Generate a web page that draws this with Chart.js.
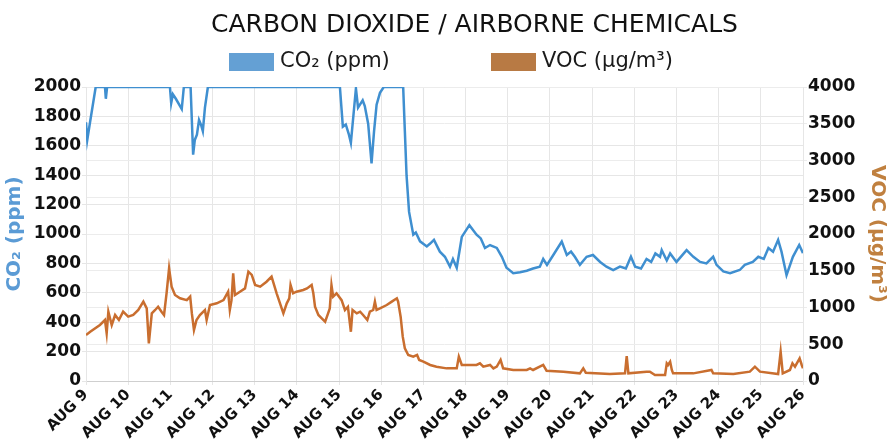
<!DOCTYPE html>
<html>
<head>
<meta charset="utf-8">
<title>Carbon dioxide / airborne chemicals</title>
<script src="https://cdn.jsdelivr.net/npm/chart.js@4.4.1/dist/chart.umd.min.js"></script>
<style>
    html, body { margin: 0; padding: 0; background: #fff; }
</style>
</head>
<body>
<canvas id="myChart" width="889" height="448"></canvas>
<script>
// x values are days of August (9.5 = Aug 9, noon)
const dayLabels = ['AUG 9', 'AUG 10', 'AUG 11', 'AUG 12', 'AUG 13', 'AUG 14', 'AUG 15', 'AUG 16', 'AUG 17',
    'AUG 18', 'AUG 19', 'AUG 20', 'AUG 21', 'AUG 22', 'AUG 23', 'AUG 24', 'AUG 25', 'AUG 26'];

const co2Days = [
    9.00, 9.03, 9.09, 9.23, 9.45, 9.47, 9.50, 10.99, 11.02, 11.06, 11.13, 11.23, 11.27, 11.32,
    11.48, 11.54, 11.58, 11.63, 11.68, 11.73, 11.77, 11.82, 11.89, 15.02, 15.09, 15.16, 15.23, 15.28,
    15.40, 15.45, 15.56, 15.61, 15.69, 15.77, 15.83, 15.89, 15.97, 16.06, 16.52, 16.56, 16.60, 16.66,
    16.76, 16.82, 16.92, 17.08, 17.16, 17.25, 17.39, 17.51, 17.63, 17.70, 17.79, 17.91, 18.09, 18.26,
    18.36, 18.46, 18.58, 18.74, 18.86, 18.97, 19.13, 19.29, 19.45, 19.60, 19.76, 19.84, 19.93, 20.08,
    20.28, 20.40, 20.50, 20.59, 20.71, 20.87, 21.02, 21.19, 21.34, 21.50, 21.66, 21.80, 21.92, 22.02,
    22.16, 22.29, 22.40, 22.50, 22.61, 22.65, 22.77, 22.85, 23.00, 23.24, 23.40, 23.56, 23.71, 23.87,
    23.95, 24.11, 24.27, 24.50, 24.62, 24.81, 24.94, 25.07, 25.18, 25.29, 25.41, 25.49, 25.61, 25.76,
    25.91, 26.00
];
const co2Values = [
    1760, 1640, 1750, 2000, 2000, 1920, 2000, 2000, 1890, 1950, 1920, 1870, 1850, 2000,
    2000, 1540, 1640, 1675, 1775, 1740, 1700, 1860, 2000, 2000, 1730, 1745, 1680, 1620,
    1990, 1860, 1910, 1870, 1750, 1480, 1700, 1880, 1960, 2000, 2000, 1700, 1400, 1150,
    995, 1010, 950, 915, 935, 960, 880, 845, 778, 830, 770, 980, 1060, 995,
    970, 905, 925, 905, 845, 770, 733, 740, 750, 765, 778, 830, 790, 857,
    948, 857, 880, 845, 790, 845, 857, 810, 778, 755, 778, 765, 845, 778,
    765, 830, 810, 868, 845, 890, 820, 868, 810, 890, 845, 810, 800, 845,
    790, 745, 733, 755, 790, 810, 845, 830, 905, 880, 960, 880, 720, 845,
    925, 870
];

const vocDays = [
    9.00, 9.10, 9.33, 9.45, 9.49, 9.53, 9.61, 9.69, 9.78, 9.88, 10.00, 10.12, 10.24, 10.36,
    10.44, 10.49, 10.56, 10.64, 10.71, 10.79, 10.85, 10.91, 10.97, 11.03, 11.11, 11.23, 11.39, 11.47,
    11.51, 11.56, 11.62, 11.70, 11.82, 11.86, 11.94, 12.10, 12.26, 12.37, 12.41, 12.45, 12.49, 12.53,
    12.65, 12.77, 12.85, 12.93, 13.01, 13.13, 13.28, 13.40, 13.52, 13.64, 13.68, 13.76, 13.82, 13.85,
    13.91, 13.99, 14.15, 14.24, 14.35, 14.39, 14.43, 14.51, 14.59, 14.67, 14.74, 14.78, 14.82, 14.86,
    14.94, 15.06, 15.14, 15.21, 15.28, 15.32, 15.42, 15.50, 15.57, 15.67, 15.73, 15.81, 15.85, 15.89,
    15.97, 16.13, 16.25, 16.37, 16.40, 16.46, 16.51, 16.56, 16.64, 16.76, 16.85, 16.90, 17.00, 17.16,
    17.31, 17.55, 17.79, 17.84, 17.91, 18.10, 18.26, 18.34, 18.42, 18.58, 18.66, 18.74, 18.83, 18.89,
    19.13, 19.45, 19.53, 19.60, 19.84, 19.92, 20.32, 20.71, 20.79, 20.85, 21.42, 21.78, 21.82, 21.86,
    22.29, 22.37, 22.49, 22.73, 22.77, 22.80, 22.85, 22.89, 22.92, 23.40, 23.83, 23.87, 24.35, 24.74,
    24.86, 24.98, 25.41, 25.47, 25.52, 25.69, 25.75, 25.81, 25.92, 25.97, 26.00
];
const vocValues = [
    626, 670, 762, 830, 650, 943, 762, 898, 830, 943, 875, 898, 966, 1080,
    988, 512, 920, 966, 1010, 943, 898, 1193, 1533, 1283, 1170, 1125, 1100, 1148,
    920, 694, 830, 898, 966, 830, 1034, 1057, 1100, 1215, 966, 1100, 1465, 1170,
    1215, 1260, 1487, 1443, 1306, 1283, 1351, 1420, 1193, 988, 920, 1057, 1125, 1306,
    1193, 1215, 1238, 1260, 1306, 1193, 1010, 898, 852, 807, 920, 988, 1306, 1148,
    1193, 1100, 966, 1010, 670, 966, 920, 943, 898, 830, 943, 966, 1080, 966,
    988, 1034, 1080, 1125, 1080, 875, 603, 444, 354, 331, 354, 286, 263, 218,
    195, 172, 172, 331, 218, 218, 218, 240, 195, 218, 172, 195, 286, 172,
    150, 150, 172, 150, 218, 140, 127, 104, 172, 113, 95, 104, 340, 104,
    127, 127, 82, 82, 240, 218, 263, 150, 104, 104, 150, 104, 95, 127,
    195, 127, 95, 399, 104, 150, 240, 195, 308, 218, 172
];

const co2Points = co2Days.map((d, i) => ({ x: d, y: co2Values[i] }));
const vocPoints = vocDays.map((d, i) => ({ x: d, y: vocValues[i] }));

const tickFont = { family: 'DejaVu Sans', size: 17, weight: 'bold' };

// title sits a bit right of centre in the original
const nudgeTitle = {
    id: 'nudgeTitle',
    afterLayout(chart) {
        chart.titleBlock.left += 30;
        chart.titleBlock.right += 30;
    }
};

// legend drawn by hand in the space left under the title
const headerLegend = {
    id: 'headerLegend',
    afterDraw(chart) {
        const ctx = chart.ctx;
        const itemLeft = [229, 491];
        ctx.save();
        ctx.font = '21px "DejaVu Sans"';
        ctx.textBaseline = 'middle';
        chart.data.datasets.forEach((ds, i) => {
            ctx.fillStyle = ds.backgroundColor;
            ctx.fillRect(itemLeft[i], 53, 45, 18);
            ctx.fillStyle = '#1a1a1a';
            ctx.fillText(ds.label, itemLeft[i] + 51, 62);
        });
        ctx.restore();
    }
};

let myChart = null;

function initChart() {
    const ctx = document.getElementById('myChart').getContext('2d');
    myChart = new Chart(ctx, {
        type: 'line',
        data: {
            datasets: [{
                label: 'CO₂ (ppm)',
                data: co2Points,
                yAxisID: 'y',
                borderColor: '#3f8fd0',
                backgroundColor: '#64a0d4',
                borderWidth: 2.5,
                pointRadius: 0
            }, {
                label: 'VOC (µg/m³)',
                data: vocPoints,
                yAxisID: 'y1',
                borderColor: '#c96e2f',
                backgroundColor: '#b87a44',
                borderWidth: 2.5,
                pointRadius: 0
            }]
        },
        options: {
            responsive: false,
            animation: false,
            plugins: {
                title: {
                    display: true,
                    text: 'CARBON DIOXIDE / AIRBORNE CHEMICALS',
                    color: '#111',
                    font: { family: 'DejaVu Sans', size: 25, weight: 'normal' },
                    padding: { top: 10, bottom: 47 }
                },
                legend: { display: false },
                tooltip: { enabled: false }
            },
            scales: {
                x: {
                    type: 'linear',
                    min: 9,
                    max: 26,
                    ticks: {
                        stepSize: 1,
                        autoSkip: false,
                        minRotation: 45,
                        maxRotation: 45,
                        padding: 1,
                        color: '#111',
                        font: { family: 'DejaVu Sans', size: 15, weight: 'bold' },
                        callback: (value) => dayLabels[value - 9]
                    },
                    grid: { color: '#e6e6e6', tickLength: 4 },
                    border: { color: '#cfcfcf' },
                    afterFit: (scale) => { scale.height = 67; }
                },
                y: {
                    position: 'left',
                    min: 0,
                    max: 2000,
                    ticks: { stepSize: 200, padding: 1, color: '#111', font: tickFont, callback: (value) => String(value) },
                    grid: { color: '#e6e6e6', tickLength: 4 },
                    border: { color: '#e6e6e6' },
                    title: {
                        display: true,
                        text: 'CO₂ (ppm)',
                        color: '#5b9bd5',
                        font: { family: 'DejaVu Sans', size: 20, weight: 'bold' },
                        padding: { top: 3 }
                    },
                    afterFit: (scale) => { scale.width = 86; }
                },
                y1: {
                    position: 'right',
                    min: 0,
                    max: 4000,
                    ticks: { stepSize: 500, padding: 1, color: '#111', font: tickFont, callback: (value) => String(value) },
                    grid: { color: '#ececec', tickLength: 4 },
                    border: { color: '#e6e6e6' },
                    title: {
                        display: true,
                        text: 'VOC (µg/m³)',
                        color: '#c0803f',
                        font: { family: 'DejaVu Sans', size: 20, weight: 'bold' },
                        padding: { top: 0 }
                    },
                    afterFit: (scale) => { scale.width = 86; }
                }
            }
        },
        plugins: [nudgeTitle, headerLegend]
    });
}

initChart();
</script>
</body>
</html>
